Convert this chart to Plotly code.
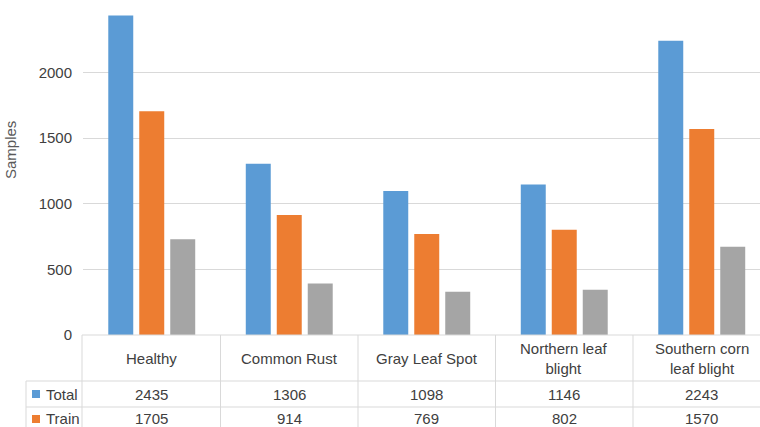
import plotly.graph_objects as go

categories = ["Healthy", "Common Rust", "Gray Leaf Spot", "Northern leaf blight", "Southern corn leaf blight"]
category_labels = ["Healthy", "Common Rust", "Gray Leaf Spot", "Northern leaf<br>blight", "Southern corn<br>leaf blight"]
total = [2435, 1306, 1098, 1146, 2243]
train = [1705, 914, 769, 802, 1570]
test = [730, 392, 329, 344, 673]
series_names = ["Total", "Train", "Test"]
colors = ["#5B9BD5", "#ED7D31", "#A5A5A5"]
y_ticks = [0, 500, 1000, 1500, 2000]
y_title = "Samples"

W, H = 760, 427
ML, MB = 83, 92
PW, PH = W - ML, H - MB
col_px = 137.5
xr = [-0.5, -0.5 + PW / col_px]
yr = [0, 2553]
FONT = "Liberation Sans"
TXT = "#404040"
LINE = "#D9D9D9"

def pxx(p):  # pixel x -> paper x
    return (p - ML) / PW

def pxy(p):  # pixel y -> paper y
    return (PH - p) / PH

def datax(v):  # data x -> paper x
    return (v - xr[0]) / (xr[1] - xr[0])

fig = go.Figure()
for name, vals, c in zip(series_names, [total, train, test], colors):
    fig.add_trace(go.Bar(x=list(range(len(categories))), y=vals, name=name,
                         marker=dict(color=c, line=dict(width=0)),
                         hovertext=categories))

shapes = []
# table horizontal lines
shapes.append(dict(type="line", xref="paper", yref="paper", x0=pxx(82), x1=pxx(W + 20),
                   y0=0, y1=0, line=dict(color=LINE, width=1)))
for py in [381, 407, 433]:
    shapes.append(dict(type="line", xref="paper", yref="paper", x0=pxx(26), x1=pxx(W + 20),
                       y0=pxy(py), y1=pxy(py), line=dict(color=LINE, width=1)))
# vertical lines
shapes.append(dict(type="line", xref="paper", yref="paper", x0=pxx(26), x1=pxx(26),
                   y0=pxy(381), y1=pxy(440), line=dict(color=LINE, width=1)))
shapes.append(dict(type="line", xref="paper", yref="paper", x0=pxx(82), x1=pxx(82),
                   y0=0, y1=pxy(440), line=dict(color=LINE, width=1)))
for k in range(len(categories)):
    xp = datax(k + 0.5)
    shapes.append(dict(type="line", xref="paper", yref="paper", x0=xp, x1=xp,
                       y0=0, y1=pxy(440), line=dict(color=LINE, width=1)))
# legend keys in the table
for i, py in enumerate([394, 419]):
    shapes.append(dict(type="rect", xref="paper", yref="paper", x0=pxx(32), x1=pxx(40),
                       y0=pxy(py - 4), y1=pxy(py + 4), fillcolor=colors[i], line=dict(width=0)))

annotations = []
for k, lab in enumerate(category_labels):
    annotations.append(dict(x=k, xref="x", y=pxy(358.5), yref="paper", text=lab, showarrow=False,
                            xanchor="center", yanchor="middle", font=dict(family=FONT, size=15, color=TXT)))
for row_vals, py in [(total, 394), (train, 418)]:
    for k, v in enumerate(row_vals):
        annotations.append(dict(x=k, xref="x", y=pxy(py), yref="paper", text=str(v), showarrow=False,
                                xanchor="center", yanchor="middle", font=dict(family=FONT, size=15, color=TXT)))
for name, py in zip(series_names[:2], [394, 418]):
    annotations.append(dict(x=pxx(44), xref="paper", y=pxy(py), yref="paper", text=name, showarrow=False,
                            xanchor="left", yanchor="middle", font=dict(family=FONT, size=15, color=TXT)))
annotations.append(dict(x=pxx(10), xref="paper", y=pxy(150), yref="paper", text=y_title, showarrow=False,
                        textangle=-90, xanchor="center", yanchor="middle",
                        font=dict(family=FONT, size=15, color="#595959")))

fig.update_layout(
    width=W, height=H, margin=dict(l=ML, r=0, t=0, b=MB),
    paper_bgcolor="white", plot_bgcolor="white",
    barmode="group", bargap=0.324, bargroupgap=0.194,
    showlegend=False,
    font=dict(family=FONT, size=15, color=TXT),
    xaxis=dict(range=xr, showticklabels=False, showgrid=False, zeroline=False, showline=False, ticks=""),
    yaxis=dict(range=yr, tickvals=y_ticks, showgrid=True, gridcolor=LINE, gridwidth=1,
               zeroline=False, showline=False, ticks="", ticklabelstandoff=10,
               tickfont=dict(family=FONT, size=15, color=TXT)),
    shapes=shapes, annotations=annotations,
)
fig.write_html("out.html", config={"displayModeBar": False},
               post_script="document.body.style.margin='0';document.body.style.overflow='hidden';")
